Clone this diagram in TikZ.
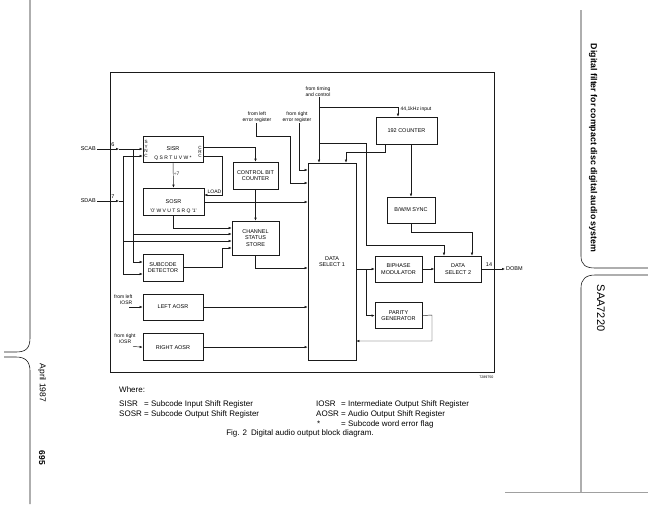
\documentclass[tikz,border=0pt]{standalone}
\usepackage{fontspec}
\setmainfont{Liberation Sans}
\usepackage{tikz}
\usetikzlibrary{
  arrows.meta,
  positioning,
  calc
}
\definecolor{dgInk}{HTML}{1A1A1A}
\definecolor{dgFaint}{HTML}{A0A0A0}
\tikzset{
  dgbox/.style={
    draw=dgInk, line width=0.6pt, inner sep=0pt, align=center,
    font=\fontsize{5.5}{6.4}\selectfont
  },
  sig/.style={-{Latex[length=3pt,width=2.4pt]}, line width=0.45pt, dgInk},
  wire/.style={line width=0.45pt, dgInk},
  tag/.style={font=\fontsize{5}{5.4}\selectfont, inner sep=0.5pt, align=center},
  pinlbl/.style={font=\fontsize{5.5}{6}\selectfont, inner sep=1pt},
  legend/.style={font=\fontsize{8}{10}\selectfont, anchor=west, inner sep=0pt},
  tabline/.style={line width=0.6pt, dgInk},
  frameline/.style={line width=0.7pt, dgInk}
}

\begin{document}
\begin{tikzpicture}[x=1pt,y=-1pt]
  \useasboundingbox (0,0) rectangle (648,504);
  % page tabs
  \draw[tabline] (30,0) -- (30,338) .. controls (30,349) and (25,352) .. (16,352) -- (4,352);
  \draw[tabline] (4,357) -- (16,357) .. controls (25,357) and (30,361) .. (30,371) -- (30,504);
  \draw[tabline] (581,10) -- (581,256) .. controls (581,265) and (586,268) .. (595,268) -- (648,268);
  \draw[tabline] (648,275) -- (595,275) .. controls (586,275) and (581,279) .. (581,288) -- (581,492);
  \draw[line width=0.5pt, dgFaint] (505,492) -- (648,492);
  \node[rotate=-90, font=\fontsize{8.5}{9}\selectfont] (date) at (42,383) {April 1987};
  \node[rotate=-90, font=\fontsize{8.5}{9}\selectfont\bfseries] (page) at (42,458) {695};
  \node[rotate=-90, font=\fontsize{8.8}{9}\selectfont\bfseries] (title) at (593,148) {Digital filter for compact disc digital audio system};
  \node[rotate=-90, font=\fontsize{11}{12}\selectfont] (type) at (601,308) {SAA7220};

  % outline
  \draw[frameline] (110,72) rectangle (494,372);
  \node[tag, anchor=north east, font=\fontsize{3.6}{4}\selectfont] (code) at (494,375) {7289750};

  % blocks
  \node[dgbox, minimum width=60pt, minimum height=26pt] (sisr) at (173,149) {SISR};
  \node[dgbox, minimum width=61pt, minimum height=27pt] (sosr) at (173.5,201.5) {SOSR};
  \node[dgbox, minimum width=45pt, minimum height=27pt] (cbc) at (255.5,175.5) {CONTROL BIT\\COUNTER};
  \node[dgbox, minimum width=47pt, minimum height=34pt] (css) at (255.5,238) {CHANNEL\\STATUS\\STORE};
  \node[dgbox, minimum width=40pt, minimum height=27pt] (subdet) at (163,267.5) {SUBCODE\\DETECTOR};
  \node[dgbox, minimum width=60pt, minimum height=26pt] (laosr) at (173,307) {LEFT AOSR};
  \node[dgbox, minimum width=60pt, minimum height=27pt, below=13pt of laosr] (raosr) {RIGHT AOSR};
  \node[dgbox, minimum width=48pt, minimum height=197pt] (ds1) at (332,261.5) {DATA\\SELECT 1};
  \node[dgbox, minimum width=61pt, minimum height=27pt] (cnt) at (406.5,130.5) {192 COUNTER};
  \node[dgbox, minimum width=48pt, minimum height=26pt] (bwm) at (411,210) {B/W/M SYNC};
  \node[dgbox, minimum width=47pt, minimum height=26pt] (bpm) at (398.5,269) {BIPHASE\\MODULATOR};
  \node[dgbox, minimum width=47pt, minimum height=26pt, right=12pt of bpm] (ds2) {DATA\\SELECT 2};
  \node[dgbox, minimum width=47pt, minimum height=26pt, below=20pt of bpm] (pgen) {PARITY\\GENERATOR};

  % register bit rows
  \node[tag, font=\fontsize{4.6}{4.8}\selectfont, anchor=west] (sync) at ([xshift=1pt]sisr.west) {S\\Y\\N\\C};
  \node[tag, font=\fontsize{4.6}{4.4}\selectfont, anchor=east] (crc) at ([xshift=-1pt,yshift=-3pt]sisr.east) {C\\R\\C};
  \node[tag] (sisrbits) at ([yshift=4pt]sisr.south) {Q S R T U V W *};
  \node[tag] (sosrbits) at ([yshift=4pt]sosr.south) {'0' W V U T S R Q '1'};

  % inputs
  \node[pinlbl, anchor=east] (scab) at (97,149) {SCAB};
  \node[pinlbl, anchor=east] (sdab) at (97,201) {SDAB};
  \coordinate (pin6) at (119,149);
  \coordinate (pin7) at (119,201);
  \node[pinlbl, anchor=south] at (113,148) {6};
  \node[pinlbl, anchor=south] at (113,200) {7};
  \draw[sig] (scab.east) -- (pin6);
  \draw[sig] (pin6) -- (sisr.west |- pin6);
  \draw[sig] (sdab.east) -- (pin7);
  \draw[wire] (pin7) -- (123,201);
  \draw[sig] (133,149) |- (subdet.west |- 0,262);
  \draw[sig] (133,234) -- (css.west |- 0,234);
  \draw[sig] (123,201) |- (sisr.west |- 0,156);
  \draw[sig] (123,201) |- (subdet.west |- 0,274);
  \draw[sig] (123,241) -- (css.west |- 0,241);

  \node[tag, anchor=south east, align=right] (liosr) at (133,305) {from left\\IOSR};
  \node[tag, anchor=south] (riosr) at (125,344) {from right\\IOSR};
  \draw[sig] (129,307) -- (laosr.west);
  \draw[sig] (133,346.5) -- (raosr.west);

  % subcode path
  \draw[sig] (sisr.south) -- (sosr.north) node[tag, pos=0.45, right] {÷7};
  \draw[sig] (sisr.east |- 0,147) -| (cbc.north);
  \draw[sig] (sisr.east |- 0,156) -| (222,195) -- (sosr.east |- 0,195);
  \node[tag, anchor=south east] at (222,194) {LOAD};
  \draw[sig] (sosr.east |- 0,202) -- (ds1.west |- 0,202);
  \draw[sig] (sosr.south) |- (css.west |- 0,228);
  \draw[sig] (cbc.south) -- (css.north);
  \draw[sig] (subdet.east) -| (222,248) -- (css.west |- 0,248);
  \draw[sig] (css.south) |- (ds1.west |- 0,268);
  \draw[sig] (laosr.east) -- (ds1.west |- laosr.east);
  \draw[sig] (raosr.east) -- (ds1.west |- raosr.east);

  % error and timing inputs
  \node[tag, anchor=south] (lerr) at (257,123) {from left\\error register};
  \node[tag, anchor=south] (rerr) at (297,123) {from right\\error register};
  \node[tag, anchor=south] (timing) at (318,97) {from timing\\and control};
  \draw[sig] (lerr.south -| 256,0) |- (290,136) |- (ds1.west |- 0,183);
  \draw[sig] (rerr.south -| 299,0) |- (ds1.west |- 0,170);
  \draw[sig] (timing.south -| 319,0) -- (ds1.north -| 319,0);
  \draw[sig] (319,107) -| (cnt.north -| 398,0);
  \node[tag, anchor=west] (fs) at (400,109) {44,1kHz input};
  \draw[sig] (319,143) -| (366,245) -| (ds2.north -| 444,0);

  % output path
  \draw[sig] (cnt.south -| 385,0) |- (346,152) -- (ds1.north -| 346,0);
  \draw[sig] (cnt.south -| 411,0) -- (bwm.north);
  \draw[sig] (bwm.south) |- (472,232) -- (ds2.north -| 472,0);
  \draw[sig] (ds1.east |- bpm.west) -- (bpm.west);
  \draw[sig] (366,269) |- (pgen.west);
  \draw[sig] (bpm.east) -- (ds2.west);
  \draw[sig] (pgen.east) -- (432,315) |- (ds1.east |- 0,341);
  \node[pinlbl, anchor=west] (dobm) at (505,269) {DOBM};
  \draw[sig] (ds2.east) -- (dobm.west);
  \node[pinlbl, anchor=south] at (489,268) {14};

  % legend
  \node[legend] (where) at (119,390) {Where:};
  \node[legend] at (119,404) {SISR};
  \node[legend] at (144,404) {= Subcode Input Shift Register};
  \node[legend] at (119,414) {SOSR};
  \node[legend] at (144,414) {= Subcode Output Shift Register};
  \node[legend] at (316,404) {IOSR};
  \node[legend] at (341,404) {= Intermediate Output Shift Register};
  \node[legend] at (316,414) {AOSR};
  \node[legend] at (341,414) {= Audio Output Shift Register};
  \node[legend] at (317,424) {*};
  \node[legend] at (341,424) {= Subcode word error flag};
  \node[legend, anchor=center] (caption) at (300,433) {Fig. 2\enspace Digital audio output block diagram.};
\end{tikzpicture}
\end{document}
